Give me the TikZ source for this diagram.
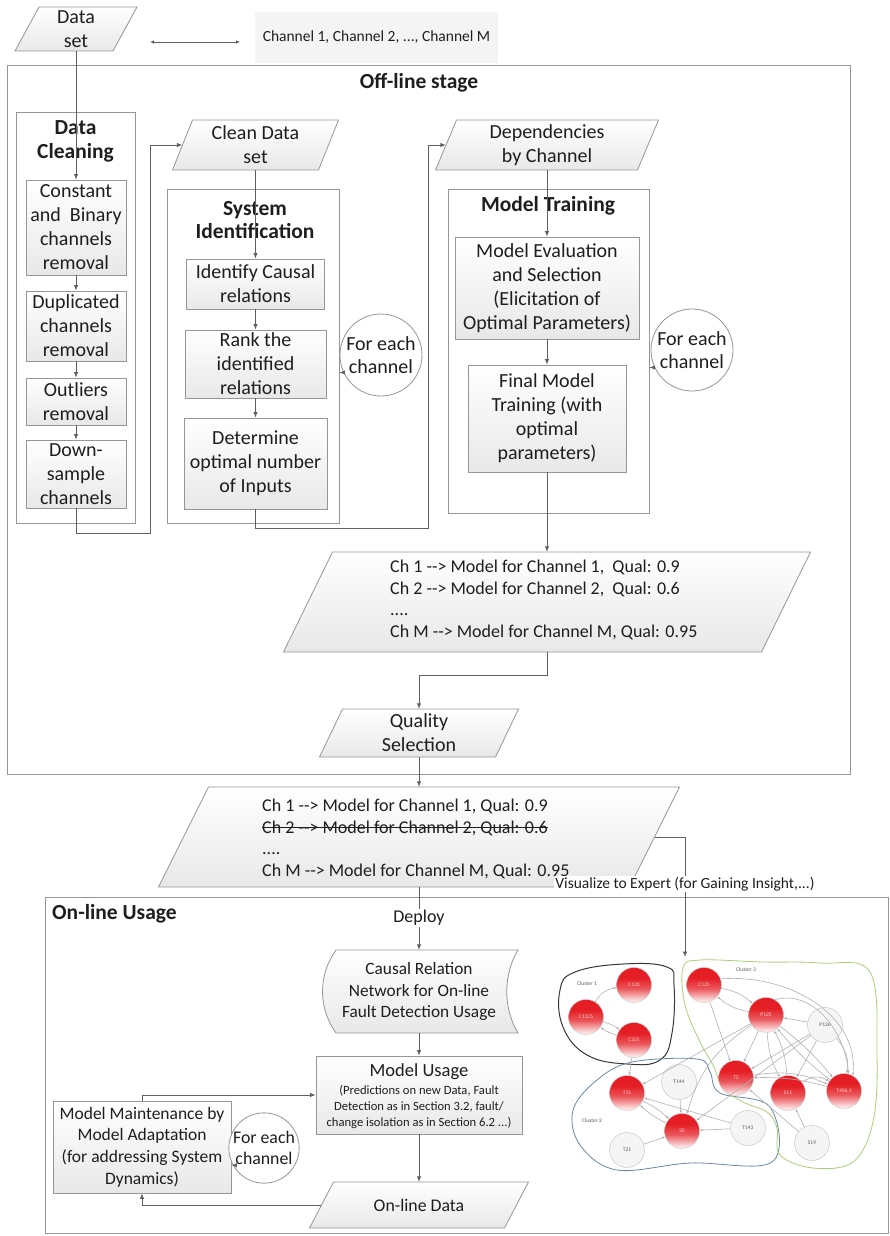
\documentclass[tikz,border=0pt]{standalone}
\usepackage{fontspec}
\setmainfont{Carlito}
\usetikzlibrary{arrows.meta,calc}

\definecolor{txtcol}{RGB}{30,30,30}
\definecolor{linecol}{RGB}{95,95,95}
\definecolor{boxcol}{RGB}{150,150,150}
\definecolor{shadecol}{RGB}{232,232,232}
\definecolor{chanfill}{RGB}{244,244,244}
\definecolor{gred}{RGB}{228,30,36}
\definecolor{cone}{RGB}{55,55,55}
\definecolor{ctwo}{RGB}{105,135,165}
\definecolor{cthree}{RGB}{170,208,120}

% red ball shading of the network nodes (bottom to top)
\pgfdeclareverticalshading{redball}{100bp}{%
  color(0bp)=(gred!12!white); color(28bp)=(gred!12!white); color(45bp)=(gred!75!white);
  color(60bp)=(gred); color(100bp)=(gred)}

\newcommand{\fsz}[2]{\fontsize{#1}{#2}\selectfont}
% struck-through text
\newcommand{\strk}[1]{\setbox0\hbox{#1}\rlap{\rule[0.27em]{\wd0}{0.06em}}\box0}
% parallelogram: name, cx, cy, mean width, height, slant, text
\newcommand{\pgram}[7]{%
  \path[parashape] (#2-#4/2-#6/2,#3+#5/2) -- (#2-#4/2+#6/2,#3-#5/2)
     -- (#2+#4/2+#6/2,#3-#5/2) -- (#2+#4/2-#6/2,#3+#5/2) -- cycle;
  \node[paratext, minimum width=#4pt, minimum height=#5pt] (#1) at (#2,#3) {#7};}

\tikzset{
  every node/.style={text=txtcol},
  stepbox/.style={rectangle, draw=boxcol, line width=0.8pt, top color=white,
    bottom color=shadecol, inner sep=0pt, align=center, font=\fsz{20}{24}},
  groupbox/.style={rectangle, draw=boxcol, line width=0.8pt, fill=white, inner sep=0pt},
  titletext/.style={font=\bfseries\fsz{21.5}{23.5}, align=center, inner sep=0pt},
  parashape/.style={draw=boxcol, line width=0.8pt, top color=white, bottom color=shadecol},
  paratext/.style={rectangle, inner sep=0pt, align=center, font=\fsz{20}{24}},
  listtext/.style={inner sep=0pt, align=left, font=\fsz{18}{21.7}, anchor=west},
  line/.style={draw=linecol, line width=0.9pt},
  conn/.style={line, -{Latex[length=5.5pt,width=4.5pt]}},
  loopc/.style={circle, draw=boxcol, line width=0.8pt, fill=white, inner sep=0pt, align=center},
  rednode/.style={circle, minimum size=35pt, inner sep=0pt, draw=gray!40, line width=0.4pt,
    shading=redball, font=\fsz{5.5}{6}, text=white!80!red},
  graynode/.style={circle, minimum size=35pt, inner sep=0pt, draw=gray!50, line width=0.4pt,
    fill=gray!8, font=\fsz{5.5}{6}, text=gray!70!black},
  garrow/.style={draw=gray!60, line width=0.6pt, -{Latex[length=3pt,width=2.6pt]}},
  clabel/.style={font=\fsz{5.5}{6}, text=gray!70!black, inner sep=0pt},
}

\begin{document}
\begin{tikzpicture}[x=1pt,y=-1pt]
\fill[white] (0,0) rectangle (889,1236);
\useasboundingbox (0,0) rectangle (889,1236);

% ---------- top: data set and channel list ----------
\pgram{dataset}{76}{29}{98}{44}{24}{Data\\set}
\node[rectangle, fill=chanfill, minimum width=243pt, minimum height=51pt, inner sep=0pt,
      font=\fsz{15.5}{18}] (chan) at (376.5,37.5) {Channel 1, Channel 2, ..., Channel M};
\coordinate (dbl1) at (150,42);
\coordinate (dbl2) at (240,42);
\draw[line, line width=0.7pt, {Latex[length=4pt,width=3.5pt]}-{Latex[length=4pt,width=3.5pt]}] (dbl1) -- (dbl2);

% ---------- off-line stage ----------
\node[groupbox, minimum width=843pt, minimum height=709pt] (offline) at (428.5,419.5) {};
\node[titletext] (offtitle) at (419,83) {Off-line stage};

% data cleaning
\node[groupbox, minimum width=119pt, minimum height=411pt] (dc) at (75.5,317.5) {};
\node[titletext] (dctitle) at (75.5,141.5) {Data\\Cleaning};
\node[stepbox, minimum width=100pt, minimum height=95pt] (c1) at (76,227.5) {Constant\\and\ \ Binary\\channels\\removal};
\node[stepbox, minimum width=100pt, minimum height=70pt] (c2) at (76,326) {Duplicated\\channels\\removal};
\node[stepbox, minimum width=100pt, minimum height=47pt] (c3) at (76,401.5) {Outliers\\removal};
\node[stepbox, minimum width=100pt, minimum height=68pt] (c4) at (76,474) {Down-\\sample\\channels};

% system identification
\pgram{clean}{255.5}{145}{146}{50}{20}{Clean Data\\set}
\node[groupbox, minimum width=172pt, minimum height=334pt] (si) at (253,356) {};
\node[titletext] (sititle) at (255,220) {System\\Identification};
\node[stepbox, minimum width=138pt, minimum height=50pt] (s1) at (255.5,284) {Identify Causal\\relations};
\node[stepbox, minimum width=141pt, minimum height=68pt] (s2) at (255.5,364) {Rank the\\identified\\relations};
\node[stepbox, minimum width=143pt, minimum height=91pt] (s3) at (255.5,463.5) {Determine\\optimal number\\of Inputs};
\node[loopc, minimum size=82pt, font=\fsz{20}{23}] (loop1) at (381,355) {For each\\channel};

% model training
\pgram{dep}{547}{145}{202}{50}{21}{Dependencies\\by Channel}
\node[groupbox, minimum width=201pt, minimum height=324pt] (mt) at (548.5,351) {};
\node[titletext] (mttitle) at (548,206) {Model Training};
\node[stepbox, minimum width=184pt, minimum height=102pt] (m1) at (547,288) {Model Evaluation\\and Selection\\(Elicitation of\\Optimal Parameters)};
\node[stepbox, minimum width=158pt, minimum height=107pt] (m2) at (547,418.5) {Final Model\\Training (with\\optimal\\parameters)};
\node[loopc, minimum size=82pt, font=\fsz{20}{23}] (loop2) at (692,350) {For each\\channel};

% model list and quality selection
\pgram{res}{547}{602}{478}{100}{49}{}
\node[listtext] (restext) at (390,600) {Ch 1 -{}-> Model for Channel 1,\ \ Qual: 0.9\\Ch 2 -{}-> Model for Channel 2,\ \ Qual: 0.6\\....\\Ch M -{}-> Model for Channel M, Qual: 0.95};
\pgram{quality}{419}{733}{176}{48}{23}{Quality\\Selection}

% connectors of the off-line stage
\coordinate (j1) at (150,533);
\coordinate (j2) at (428,528);
\draw[conn] (dataset.south) -- (c1.north);
\draw[conn] (c1) -- (c2);
\draw[conn] (c2) -- (c3);
\draw[conn] (c3) -- (c4);
\draw[conn] (c4.south) |- (j1) |- (clean.west);
\draw[conn] (clean.south) -- (s1.north);
\draw[conn] (s1) -- (s2);
\draw[conn] (s2) -- (s3);
\draw[conn] (s3.south) |- (j2) |- (dep.west);
\draw[conn] (dep.south) -- (m1.north);
\draw[conn] (m1) -- (m2);
\draw[conn] (m2.south) -- (m2.south |- res.north);
\draw[conn] (loop1.205) -- (loop1.205 -| si.east);
\draw[conn] (loop2.205) -- (loop2.205 -| mt.east);
\draw[conn] (res.south) -- ++(0,23) -| (quality.north);

% ---------- selected models ----------
\pgram{lower}{419}{837}{471}{100}{50}{}
\node[listtext] (lowertext) at (262,839) {Ch 1 -{}-> Model for Channel 1, Qual: 0.9\\\strk{Ch 2 -{}-> Model for Channel 2, Qual: 0.6}\\....\\Ch M -{}-> Model for Channel M, Qual: 0.95};
\draw[conn] (quality.south) -- (lower.north);

% ---------- on-line usage ----------
\node[groupbox, minimum width=843pt, minimum height=336pt] (online) at (466.5,1065) {};
\node[titletext, anchor=west] (ontitle) at (52,914) {On-line Usage};
\node[inner sep=1pt, font=\fsz{18}{20}] (deploy) at (419,918) {Deploy};

\path[parashape] (336,950) -- (518,950) .. controls (503,975) and (503,1008) .. (518,1033)
   -- (336,1033) .. controls (318,1008) and (318,975) .. (336,950) -- cycle;
\node[paratext, minimum width=190pt, minimum height=83pt, font=\fsz{17.3}{21.5}] (causal) at (419,991.5) {Causal Relation\\Network for On-line\\Fault Detection Usage};

\node[stepbox, minimum width=206pt, minimum height=78pt] (usage) at (419,1095) {};
\node[inner sep=0pt, font=\fsz{18.5}{20}] (usagetitle) at (419,1072) {Model Usage};
\node[inner sep=0pt, align=center, font=\fsz{12.6}{16}] (usagenote) at (419,1107) {(Predictions on new Data, Fault\\Detection as in Section 3.2, fault/\\change isolation as in Section 6.2 ...)};

\node[stepbox, minimum width=178pt, minimum height=92pt, font=\fsz{17.5}{21.7}] (maint) at (142,1147) {Model Maintenance by\\Model Adaptation\\(for addressing System\\Dynamics)};
\node[loopc, minimum size=62pt, font=\fsz{17.8}{21}] (loop3) at (264,1148) {For each\\channel};

\pgram{odata}{419}{1205}{195}{46}{24}{\fsz{17.8}{21}On-line Data}

\draw[line] (lower.south) -- (deploy.north);
\draw[conn] (deploy.south) -- (deploy.south |- causal.north);
\draw[conn] (causal.south) -- (usage.north);
\draw[conn] (usage.south) -- (odata.north);
\draw[conn] (odata.west) -| (maint.south);
\draw[conn] (maint.north) |- (usage.west);
\draw[conn] (loop3.209) -- (loop3.209 -| maint.east);

% link to the visualised network
\coordinate (gin) at (685,957);
\draw[conn] (lower.east) -| (gin);
\node[fill=white, inner sep=1pt, font=\fsz{15.5}{17}] (vislabel) at (685,884) {Visualize to Expert (for Gaining Insight,...)};

% ---------- causal relation network ----------
\draw[cone, line width=1pt] plot[smooth cycle, tension=0.7] coordinates {
  (560,990) (575,972) (623,964) (667,967) (674,985) (672,1033) (660,1060) (627,1064) (587,1055) (563,1027)};
\draw[ctwo, line width=0.8pt] plot[smooth cycle, tension=0.6] coordinates {
  (632,1062) (697,1059) (710,1072) (720,1093) (770,1107) (772,1162) (690,1163) (617,1170) (580,1145) (573,1110) (597,1080)};
\draw[cthree, line width=0.8pt] plot[smooth cycle, tension=0.6] coordinates {
  (683,968) (700,960) (763,962) (820,963) (870,972) (877,1055) (873,1122) (853,1162) (813,1168) (780,1155) (777,1128) (767,1112) (743,1102) (723,1088) (713,1065) (700,1042) (685,1005)};
\node[clabel] (cl1) at (587,984) {Cluster 1};
\node[clabel] (cl2) at (592,1121) {Cluster 2};
\node[clabel] (cl3) at (746,970) {Cluster 3};

\node[rednode] (C120) at (634,985) {C120};
\node[rednode] (C1325) at (586,1017) {C1325};
\node[rednode] (C325) at (634,1040) {C325};
\node[rednode] (C125) at (704,985) {C125};
\node[rednode] (P125) at (766,1015) {P125};
\node[graynode] (P126) at (825,1025) {P126};
\node[rednode] (T2) at (736,1078) {T2};
\node[rednode] (S11) at (788,1093) {S11};
\node[rednode] (T406) at (844,1091) {T406.1};
\node[rednode] (T11) at (627,1093) {T11};
\node[graynode] (T144) at (679,1082) {T144};
\node[rednode] (S0) at (682,1131) {S0};
\node[graynode] (T143) at (748,1128) {T143};
\node[graynode] (T21) at (627,1150) {T21};
\node[graynode] (S19) at (812,1143) {S19};

\begin{scope}[garrow]
\draw (C1325) to[bend left=25] (C120);
\draw (C325) to[bend left=10] (C1325);
\draw (C1325) to[bend left=10] (C325);
\draw (C325) -- (T11);
\draw (C125) to[bend left=15] (P125);
\draw (P125) to[bend left=15] (C125);
\draw (C125) -- (T2);
\draw (C125.20) to[out=5,in=85] (T406.60);
\draw (P125.60) to[out=15,in=95] (T406.75);
\draw (P126) -- (P125);
\draw (P126) -- (T2);
\draw (P126) -- (S11);
\draw (P126) to[bend left=25] (T406);
\draw (P126) -- (S0);
\draw (P125) -- (T2);
\draw (P125) to[bend right=12] (S11);
\draw (S11) to[bend right=12] (P125);
\draw (P125) to[bend left=6] (T406);
\draw (T406) to[bend left=6] (P125);
\draw (P125) -- (T11);
\draw (P125) to[bend right=20] (S0);
\draw (T2) to[bend left=16] (T406);
\draw (T406) to[bend right=8] (T2);
\draw (S11) to[bend left=35] (T406);
\draw (S19) -- (S11);
\draw (S19) -- (T2);
\draw (T144) -- (S0);
\draw (T11) to[bend left=8] (S0);
\draw (S0) to[bend left=8] (T11);
\draw (T143) -- (S0);
\draw (T143) -- (T11);
\draw (T21) -- (S0);
\end{scope}
\end{tikzpicture}
\end{document}
